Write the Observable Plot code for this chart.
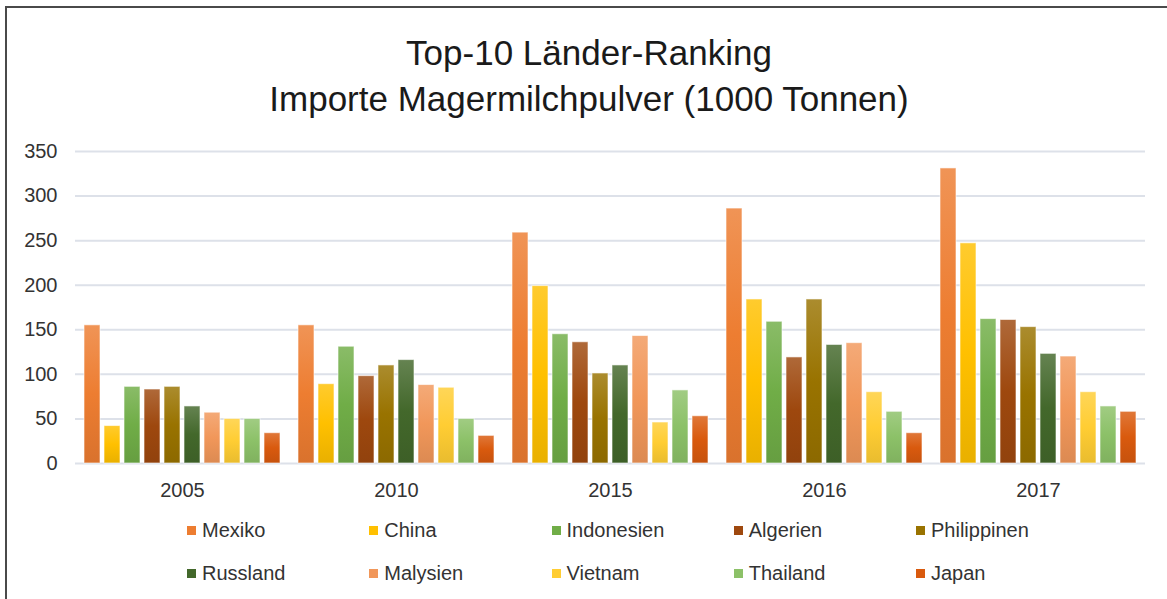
<!DOCTYPE html>
<html>
<head>
<meta charset="utf-8">
<script src="https://cdn.jsdelivr.net/npm/d3@7"></script>
<script src="https://cdn.jsdelivr.net/npm/@observablehq/plot@0.6"></script>
<style>
  body { margin: 0; background: #fff; }
  #frame { position: relative; width: 1167px; height: 599px; overflow: hidden; background: #fff; font-family: "Liberation Sans", Arial, sans-serif; }
  #border { position: absolute; left: 5px; top: 6px; width: 1300px; height: 800px; border-left: 2px solid #4a4a4a; border-top: 2px solid #4a4a4a; }
  #title { position: absolute; left: 11px; top: 30px; width: 1156px; text-align: center; font-size: 35px; line-height: 46px; color: #1a1a1a; }
  #chart { position: absolute; left: 0; top: 0; }
  .item { position: absolute; height: 26px; display: flex; align-items: center; font-size: 20px; color: #333; white-space: nowrap; }
  .sw { width: 9px; height: 9px; margin-right: 6px; }
</style>
</head>
<body>
<div id="frame">
  <div id="border"></div>
  <div id="title">Top-10 Länder-Ranking<br>Importe Magermilchpulver (1000 Tonnen)</div>
  <div id="chart"></div>
  <div id="legend"></div>
</div>
<script>
const years = ["2005", "2010", "2015", "2016", "2017"];
const countries = ["Mexiko", "China", "Indonesien", "Algerien", "Philippinen", "Russland", "Malysien", "Vietnam", "Thailand", "Japan"];
const yTicks = [0, 50, 100, 150, 200, 250, 300, 350];

// values per country, in the order of `years`
const mexiko      = [155, 155, 259, 286, 331];
const china       = [42, 89, 199, 184, 247];
const indonesien  = [86, 131, 145, 159, 162];
const algerien    = [83, 98, 136, 119, 161];
const philippinen = [86, 110, 101, 184, 153];
const russland    = [64, 116, 110, 133, 123];
const malysien    = [57, 88, 143, 135, 120];
const vietnam     = [50, 85, 46, 80, 80];
const thailand    = [50, 50, 82, 58, 64];
const japan       = [34, 31, 53, 34, 58];

const colors = ["#ED7D31", "#FFC000", "#70AD47", "#9E480E", "#997300", "#43682B", "#F1975A", "#FFCD33", "#8CC168", "#D95A0E"];

const series = [mexiko, china, indonesien, algerien, philippinen, russland, malysien, vietnam, thailand, japan];
const data = years.flatMap((yr, i) => countries.map((c, j) => ({year: yr, country: c, value: series[j][i]})));

const svg = Plot.plot({
  width: 1167,
  height: 505,
  marginLeft: 75,
  marginRight: 22,
  marginTop: 151,
  marginBottom: 42,
  style: {fontFamily: "'Liberation Sans', Arial, sans-serif", fontSize: "20px", color: "#333", background: "transparent", overflow: "visible"},
  fx: {domain: years, padding: 0, label: null, tickSize: 0, tickPadding: 19},
  x: {domain: countries, paddingInner: 0.21, paddingOuter: 0.4, axis: null},
  y: {domain: [0, 350], ticks: yTicks, tickSize: 0, tickPadding: 18, label: null},
  color: {domain: countries, range: countries.map((c, i) => `url(#g${i})`)},
  marks: [
    Plot.ruleY(yTicks, {stroke: "#dde1e9", strokeWidth: 2}),
    Plot.barY(data, {fx: "year", x: "country", y: "value", fill: "country", stroke: "#ffffff", strokeOpacity: 0.6, strokeWidth: 1})
  ]
});

const defs = d3.select(svg).insert("defs", ":first-child");
colors.forEach((c, i) => {
  const g = defs.append("linearGradient").attr("id", `g${i}`).attr("x1", 0).attr("y1", 0).attr("x2", 0).attr("y2", 1);
  g.append("stop").attr("offset", "0%").attr("stop-color", d3.interpolateRgb(c, "#ffffff")(0.18));
  g.append("stop").attr("offset", "50%").attr("stop-color", c);
  g.append("stop").attr("offset", "100%").attr("stop-color", d3.color(c).darker(0.25).formatHex());
});

document.getElementById("chart").appendChild(svg);

const legend = document.getElementById("legend");
countries.forEach((c, i) => {
  const row = Math.floor(i / 5), col = i % 5;
  const item = document.createElement("div");
  item.className = "item";
  item.style.left = (187 + col * 182.25) + "px";
  item.style.top = (row === 0 ? 517 : 560) + "px";
  const sw = document.createElement("span");
  sw.className = "sw";
  sw.style.background = colors[i];
  const label = document.createElement("span");
  label.textContent = c;
  item.appendChild(sw);
  item.appendChild(label);
  legend.appendChild(item);
});
</script>
</body>
</html>
